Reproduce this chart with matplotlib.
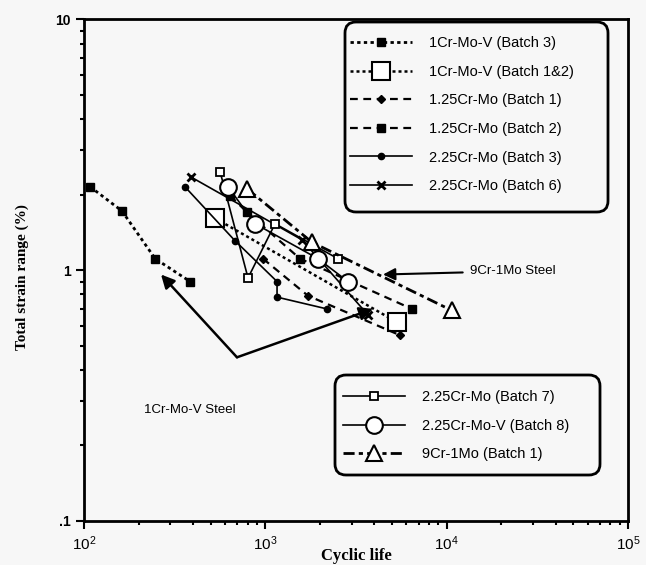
import matplotlib
matplotlib.use("Agg")
import matplotlib.pyplot as plt
from matplotlib.patches import FancyBboxPatch
from matplotlib.transforms import IdentityTransform

# ---------------- data ----------------
crmov_b3_life = [108, 162, 247, 385]
crmov_b3_strain = [2.15, 1.72, 1.11, 0.90]

crmov_b12_life = [528, 5320]
crmov_b12_strain = [1.61, 0.62]

cr125_b1_life = [971, 1720, 5530]
cr125_b1_strain = [1.11, 0.79, 0.55]

cr125_b2_life = [640, 793, 1554, 6440]
cr125_b2_strain = [1.98, 1.70, 1.11, 0.70]

cr225_b3_life = [360, 680, 1161, 1161, 2190]
cr225_b3_strain = [2.15, 1.31, 0.90, 0.78, 0.70]

cr225_b6_life = [389, 1594, 3700]
cr225_b6_strain = [2.35, 1.32, 0.66]

cr225_b7_life = [563, 803, 1132, 2518]
cr225_b7_strain = [2.47, 0.93, 1.53, 1.11]

cr225v_b8_life = [622, 878, 1954, 2858]
cr225v_b8_strain = [2.15, 1.53, 1.11, 0.90]

cr9_b1_life = [793, 1811, 10700]
cr9_b1_strain = [2.11, 1.29, 0.69]

legend1_labels = ["1Cr-Mo-V (Batch 3)", "1Cr-Mo-V (Batch 1&2)", "1.25Cr-Mo (Batch 1)",
                  "1.25Cr-Mo (Batch 2)", "2.25Cr-Mo (Batch 3)", "2.25Cr-Mo (Batch 6)"]
legend2_labels = ["2.25Cr-Mo (Batch 7)", "2.25Cr-Mo-V (Batch 8)", "9Cr-1Mo (Batch 1)"]

x_ticks = [1e2, 1e3, 1e4, 1e5]
x_ticklabels = ["$10^2$", "$10^3$", "$10^4$", "$10^5$"]
y_ticks = [0.1, 1, 10]
y_ticklabels = [".1", "1", "10"]

# ---------------- figure ----------------
plt.rcParams['font.family'] = ['Liberation Sans', 'DejaVu Sans']
plt.rcParams['mathtext.fontset'] = 'custom'
plt.rcParams['mathtext.rm'] = 'Liberation Sans'
plt.rcParams['mathtext.it'] = 'Liberation Sans'

bg = '#f7f7f7'
fig = plt.figure(figsize=(6.46, 5.65), dpi=100)
fig.patch.set_facecolor(bg)
ax = fig.add_axes([0.130, 0.078, 0.842, 0.888])
ax.set_facecolor(bg)
ax.set_xscale('log')
ax.set_yscale('log')
ax.set_xlim(1e2, 1e5)
ax.set_ylim(0.1, 10)

k = 'black'
dot = (0, (1.2, 1.2))
dash = (0, (3.5, 2.5))
dashdot = (0, (4, 1.5, 1.5, 1.5))

h1 = ax.plot(crmov_b3_life, crmov_b3_strain, color=k, ls=dot, lw=2.0,
             marker='s', ms=6, mfc=k, mec=k)[0]
h2 = ax.plot(crmov_b12_life, crmov_b12_strain, color=k, ls=dot, lw=1.8,
             marker='s', ms=13, mfc='white', mec=k, mew=1.5)[0]
h3 = ax.plot(cr125_b1_life, cr125_b1_strain, color=k, ls=dash, lw=1.6,
             marker='D', ms=4, mfc=k, mec=k)[0]
h4 = ax.plot(cr125_b2_life, cr125_b2_strain, color=k, ls=dash, lw=1.6,
             marker='s', ms=6, mfc=k, mec=k)[0]
h5 = ax.plot(cr225_b3_life, cr225_b3_strain, color=k, ls='-', lw=1.2,
             marker='o', ms=4.5, mfc=k, mec=k)[0]
h6 = ax.plot(cr225_b6_life, cr225_b6_strain, color=k, ls='-', lw=1.2,
             marker='x', ms=6, mfc=k, mec=k, mew=2)[0]
h7 = ax.plot(cr225_b7_life, cr225_b7_strain, color=k, ls='-', lw=1.2,
             marker='s', ms=6, mfc='white', mec=k, mew=1.3)[0]
h8 = ax.plot(cr225v_b8_life, cr225v_b8_strain, color=k, ls='-', lw=1.2,
             marker='o', ms=12, mfc='white', mec=k, mew=1.5)[0]
h9 = ax.plot(cr9_b1_life, cr9_b1_strain, color=k, ls=dashdot, lw=2.0,
             marker='^', ms=12, mfc='white', mec=k, mew=1.5)[0]

# axis styling
for s in ax.spines.values():
    s.set_linewidth(2.0)
ax.set_xticks(x_ticks)
ax.set_xticklabels(x_ticklabels, fontsize=11)
ax.set_yticks(y_ticks)
ax.set_yticklabels(y_ticklabels, fontsize=10, fontweight='bold')
ax.tick_params(which='major', direction='out', length=6, width=1.5)
ax.tick_params(which='minor', direction='out', length=3, width=1.5)
ax.tick_params(axis='y', which='minor', labelleft=False)
ax.tick_params(axis='x', which='minor', labelbottom=False)

fig.text(356 / 646, 1 - 556 / 565, "Cyclic life", family=['Liberation Serif'],
         fontweight='bold', fontsize=12, ha='center', va='center')
fig.text(22 / 646, 1 - 277 / 565, "Total strain range (%)", family=['Liberation Serif'],
         fontweight='bold', fontsize=11, ha='center', va='center', rotation=90)

# legend frames (rounded boxes, pixel units)
for (x0, y0, w, h) in [(345, 565 - 212, 263, 190), (335, 565 - 475, 265, 100)]:
    fr = FancyBboxPatch((x0, y0), w, h, boxstyle="round,pad=0,rounding_size=11",
                        transform=IdentityTransform(), facecolor=bg,
                        edgecolor=k, lw=2, zorder=4, clip_on=False)
    ax.add_patch(fr)

common = dict(numpoints=1, fontsize=10.5, handlelength=4.25, handletextpad=1.2,
              borderpad=0, borderaxespad=0, frameon=False, loc='upper left')
leg1 = ax.legend([h1, h2, h3, h4, h5, h6], legend1_labels,
                 bbox_to_anchor=(0.489, 0.966), labelspacing=1.0, **common)
leg1.set_zorder(6)
ax.add_artist(leg1)

leg2 = ax.legend([h7, h8, h9], legend2_labels,
                 bbox_to_anchor=(0.476, 0.260), labelspacing=0.98, **common)
leg2.set_zorder(6)

# annotations
ax.annotate("9Cr-1Mo Steel", xy=(4460, 0.96), xytext=(13400, 0.99),
            fontsize=9.5, va='center', ha='left',
            arrowprops=dict(arrowstyle='-|>', color=k, lw=1.5, mutation_scale=18,
                            shrinkA=3, shrinkB=0))
ax.text(385, 0.278, "1Cr-Mo-V Steel", fontsize=9.5, ha='center', va='center')
ax.annotate("", xy=(266, 0.96), xytext=(698, 0.449),
            arrowprops=dict(arrowstyle='-|>', color=k, lw=1.8, mutation_scale=20,
                            shrinkA=0, shrinkB=0))
ax.annotate("", xy=(3926, 0.70), xytext=(698, 0.449),
            arrowprops=dict(arrowstyle='-|>', color=k, lw=1.8, mutation_scale=20,
                            shrinkA=0, shrinkB=0))

fig.savefig("out.png", dpi=100, facecolor=fig.get_facecolor())
